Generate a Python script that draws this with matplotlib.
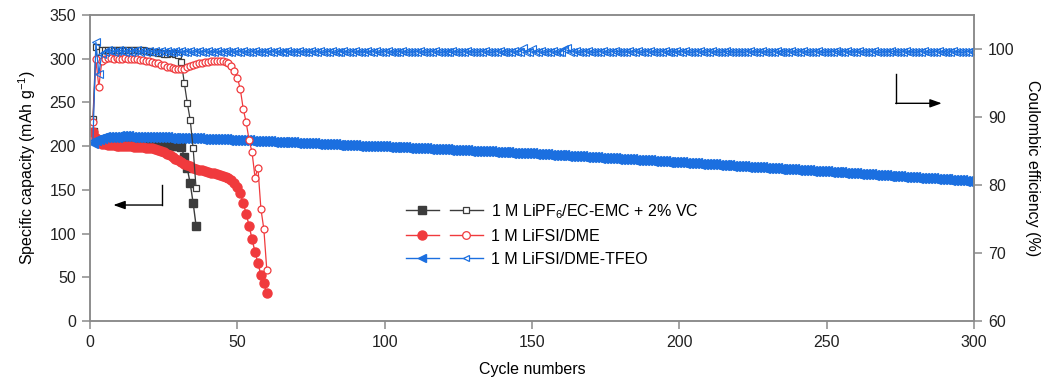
import numpy as np
import matplotlib.pyplot as plt
from matplotlib.lines import Line2D
from matplotlib.legend_handler import HandlerTuple

plt.rcParams['font.family'] = ['Liberation Sans', 'DejaVu Sans']
plt.rcParams['mathtext.default'] = 'regular'
plt.rcParams['font.size'] = 11.5

# ---- data: specific capacity (mAh/g) and coulombic efficiency (%) per cycle ----
cap_lipf6 = [216, 207, 205, 204.5, 204.2, 204, 204, 203.9, 203.8, 203.7,
             203.6, 203.5, 203.4, 203.3, 203.2, 203.1, 203, 202.9, 202.8, 202.7,
             202.6, 202.5, 202.3, 202.1, 201.9, 201.6, 201.3, 200.9, 200.4, 199.6,
             198.5, 188, 174.7, 157.5, 135, 109]
ce_lipf6 = [89.7, 100.3, 99.6, 99.8, 99.9, 99.8, 99.9, 99.9, 99.8, 99.9,
            99.9, 99.8, 99.9, 99.9, 99.8, 99.9, 99.8, 99.8, 99.7, 99.7,
            99.6, 99.5, 99.4, 99.4, 99.3, 99.3, 99.4, 99.4, 99.3, 99.1,
            98.1, 95.0, 92.1, 89.6, 85.4, 79.5]

cap_dme = [216, 209, 205, 203, 202, 201.5, 201, 200.8, 200.6, 200.4,
           200.2, 200, 199.8, 199.6, 199.4, 199.2, 199, 198.7, 198.4, 198,
           197.4, 196.6, 195.6, 194.4, 193, 191.4, 189.6, 187.6, 185.6, 183.6,
           181.6, 179.8, 178.2, 176.8, 175.5, 174.3, 173.2, 172.2, 171.3, 170.5,
           169.7, 168.9, 168.1, 167.2, 166.2, 165, 163.4, 161.2, 158.2, 153.5,
           146, 135, 122.8, 108.7, 93.5, 79, 66, 52.6, 43, 31.7]
ce_dme = [89.3, 98.5, 94.4, 98.2, 98.6, 98.7, 98.7, 98.6, 98.7, 98.6,
          98.6, 98.7, 98.6, 98.6, 98.5, 98.5, 98.4, 98.4, 98.3, 98.2,
          98.1, 98.0, 97.9, 97.7, 97.6, 97.4, 97.3, 97.2, 97.1, 97.0,
          97.0, 97.1, 97.3, 97.5, 97.7, 97.8, 97.9, 98.0, 98.1, 98.1,
          98.2, 98.2, 98.2, 98.2, 98.2, 98.1, 97.9, 97.5, 96.8, 95.8,
          94.1, 91.2, 89.2, 86.6, 84.8, 81.1, 82.5, 76.5, 73.5, 67.5]

cap_tfeo = [204.0, 207.2, 208.6, 209.4, 209.9, 210.3, 210.6, 210.8, 211.0, 211.1,
            211.1, 211.2, 211.1, 211.0, 211.0, 210.9, 210.8, 210.7, 210.6, 210.5,
            210.4, 210.3, 210.2, 210.1, 210.0, 209.9, 209.8, 209.7, 209.6, 209.5,
            209.4, 209.3, 209.2, 209.1, 209.0, 208.9, 208.8, 208.7, 208.6, 208.4,
            208.3, 208.2, 208.0, 207.9, 207.8, 207.6, 207.5, 207.4, 207.2, 207.1,
            206.9, 206.8, 206.6, 206.5, 206.3, 206.2, 206.0, 205.9, 205.7, 205.6,
            205.4, 205.3, 205.1, 205.0, 204.8, 204.7, 204.5, 204.4, 204.2, 204.0,
            203.9, 203.7, 203.6, 203.4, 203.2, 203.1, 202.9, 202.8, 202.6, 202.4,
            202.3, 202.1, 202.0, 201.8, 201.6, 201.5, 201.3, 201.2, 201.0, 200.9,
            200.7, 200.6, 200.4, 200.3, 200.2, 200.1, 200.0, 199.9, 199.8, 199.7,
            199.5, 199.4, 199.2, 199.1, 198.9, 198.7, 198.6, 198.4, 198.2, 198.1,
            197.9, 197.8, 197.6, 197.4, 197.3, 197.1, 196.9, 196.8, 196.6, 196.5,
            196.3, 196.1, 196.0, 195.8, 195.6, 195.5, 195.3, 195.2, 195.0, 194.8,
            194.7, 194.5, 194.3, 194.2, 194.0, 193.9, 193.7, 193.5, 193.4, 193.2,
            193.0, 192.9, 192.7, 192.6, 192.4, 192.2, 192.1, 191.9, 191.7, 191.6,
            191.4, 191.2, 191.0, 190.8, 190.6, 190.4, 190.2, 190.0, 189.8, 189.6,
            189.4, 189.2, 189.0, 188.8, 188.6, 188.4, 188.2, 188.0, 187.8, 187.6,
            187.4, 187.2, 187.0, 186.8, 186.6, 186.4, 186.2, 186.0, 185.8, 185.6,
            185.4, 185.2, 185.0, 184.8, 184.6, 184.4, 184.2, 184.0, 183.8, 183.6,
            183.4, 183.2, 183.0, 182.8, 182.6, 182.4, 182.2, 182.0, 181.8, 181.6,
            181.4, 181.2, 181.0, 180.7, 180.5, 180.3, 180.1, 179.9, 179.7, 179.5,
            179.3, 179.1, 178.8, 178.6, 178.4, 178.2, 178.0, 177.8, 177.6, 177.4,
            177.1, 176.9, 176.7, 176.5, 176.3, 176.1, 175.9, 175.6, 175.4, 175.2,
            175.0, 174.8, 174.6, 174.4, 174.2, 173.9, 173.7, 173.5, 173.3, 173.1,
            172.9, 172.7, 172.5, 172.2, 172.0, 171.8, 171.6, 171.4, 171.2, 171.0,
            170.8, 170.6, 170.3, 170.1, 169.9, 169.7, 169.4, 169.2, 169.0, 168.8,
            168.6, 168.3, 168.1, 167.9, 167.7, 167.5, 167.2, 167.0, 166.8, 166.6,
            166.4, 166.1, 165.9, 165.7, 165.5, 165.2, 165.0, 164.8, 164.6, 164.4,
            164.1, 163.9, 163.7, 163.5, 163.3, 163.0, 162.8, 162.6, 162.4, 162.2,
            161.9, 161.7, 161.5, 161.3, 161.1, 160.8, 160.6, 160.4, 160.2, 160.0]
ce_tfeo = [86.5, 101.0, 96.3, 99.3, 99.6, 99.8, 99.7, 99.6, 99.7, 99.8,
           99.7, 99.6, 99.7, 99.6, 99.7, 99.8, 99.6, 99.7, 99.6, 99.7,
           99.6, 99.7, 99.5, 99.7, 99.6, 99.7, 99.6, 99.5, 99.7, 99.6,
           99.7, 99.6, 99.6, 99.7, 99.5, 99.6, 99.7, 99.6, 99.6, 99.7,
           99.6, 99.5, 99.7, 99.6, 99.6, 99.7, 99.5, 99.6, 99.7, 99.6,
           99.6, 99.7, 99.6, 99.5, 99.6, 99.7, 99.6, 99.6, 99.5, 99.7,
           99.6, 99.6, 99.7, 99.6, 99.5, 99.6, 99.7, 99.6, 99.6, 99.5,
           99.7, 99.6, 99.6, 99.5, 99.7, 99.6, 99.6, 99.7, 99.5, 99.6,
           99.6, 99.7, 99.5, 99.6, 99.6, 99.7, 99.6, 99.5, 99.6, 99.7,
           99.6, 99.6, 99.5, 99.7, 99.6, 99.6, 99.7, 99.5, 99.6, 99.6,
           99.7, 99.6, 99.5, 99.6, 99.6, 99.7, 99.6, 99.5, 99.6, 99.6,
           99.6, 99.7, 99.6, 99.5, 99.6, 99.6, 99.7, 99.6, 99.5, 99.6,
           99.6, 99.5, 99.7, 99.6, 99.6, 99.5, 99.6, 99.7, 99.6, 99.6,
           99.5, 99.6, 99.6, 99.7, 99.6, 99.5, 99.6, 99.6, 99.7, 99.6,
           99.6, 99.5, 99.6, 99.7, 99.6, 99.6, 100.1, 99.5, 99.6, 100.0,
           99.6, 99.6, 99.7, 99.5, 99.6, 99.6, 99.7, 99.6, 99.5, 99.6,
           100.0, 100.2, 99.6, 99.6, 99.7, 99.5, 99.6, 99.6, 99.7, 99.6,
           99.5, 99.6, 99.6, 99.7, 99.6, 99.5, 99.6, 99.7, 99.6, 99.6,
           99.6, 99.5, 99.7, 99.6, 99.6, 99.7, 99.5, 99.6, 99.6, 99.7,
           99.6, 99.6, 99.5, 99.6, 99.7, 99.6, 99.6, 99.5, 99.7, 99.6,
           99.6, 99.7, 99.6, 99.5, 99.6, 99.6, 99.7, 99.6, 99.5, 99.6,
           99.7, 99.6, 99.6, 99.5, 99.6, 99.7, 99.6, 99.6, 99.5, 99.6,
           99.6, 99.5, 99.6, 99.7, 99.6, 99.6, 99.5, 99.7, 99.6, 99.6,
           99.5, 99.6, 99.7, 99.6, 99.6, 99.5, 99.6, 99.7, 99.6, 99.5,
           99.6, 99.7, 99.6, 99.5, 99.6, 99.6, 99.7, 99.6, 99.5, 99.6,
           99.6, 99.6, 99.7, 99.5, 99.6, 99.6, 99.7, 99.6, 99.6, 99.5,
           99.7, 99.6, 99.5, 99.6, 99.6, 99.7, 99.6, 99.5, 99.6, 99.6,
           99.6, 99.7, 99.6, 99.6, 99.5, 99.6, 99.7, 99.6, 99.6, 99.5,
           99.6, 99.6, 99.7, 99.6, 99.5, 99.6, 99.6, 99.7, 99.6, 99.6,
           99.5, 99.6, 99.7, 99.6, 99.6, 99.5, 99.6, 99.6, 99.7, 99.6]

labels = ['1 M LiPF$_6$/EC-EMC + 2% VC', '1 M LiFSI/DME', '1 M LiFSI/DME-TFEO']
colors = ['#3c3c3c', '#f03a3d', '#1b6fe0']

cyc_lipf6 = np.arange(1, len(cap_lipf6) + 1)
cyc_dme = np.arange(1, len(cap_dme) + 1)
cyc_tfeo = np.arange(1, len(cap_tfeo) + 1)

fig = plt.figure(figsize=(10.48, 3.81), dpi=100)
ax = fig.add_axes([90/1048, 1-321/381, 884/1048, 306/381])
ax2 = ax.twinx()

# capacity (filled symbols, left axis)
ax.plot(cyc_lipf6, cap_lipf6, '-s', color=colors[0], lw=1, ms=5.5)
ax.plot(cyc_dme, cap_dme, '-o', color=colors[1], lw=1, ms=6.5)
ax.plot(cyc_tfeo, cap_tfeo, '-<', color=colors[2], lw=1, ms=7.5)

# coulombic efficiency (open symbols, right axis)
ax2.plot(cyc_lipf6, ce_lipf6, '-s', color=colors[0], lw=0.9, ms=4.5, mfc='white', mew=0.9)
ax2.plot(cyc_dme, ce_dme, '-o', color=colors[1], lw=0.9, ms=5, mfc='white', mew=0.9)
ax2.plot(cyc_tfeo, ce_tfeo, '-<', color=colors[2], lw=0.9, ms=6, mfc='none', mew=0.8)

ax.set_xlim(0, 300)
ax.set_ylim(0, 350)
ax2.set_ylim(60, 105)
ax.set_xticks(np.arange(0, 301, 50))
ax.set_yticks(np.arange(0, 351, 50))
ax2.set_yticks(np.arange(60, 101, 10))

ax.set_xlabel('Cycle numbers', labelpad=9)
ax.set_ylabel('Specific capacity (mAh g$^{-1}$)', labelpad=8)
ax2.set_ylabel('Coulombic efficiency (%)', rotation=270, labelpad=18)

for a in (ax, ax2):
    for s in a.spines.values():
        s.set_color('#8a8a8a')
        s.set_linewidth(1.1)
    a.tick_params(direction='out', length=6, width=1.1, color='#8a8a8a',
                  labelsize=11.5, labelcolor='#222222', pad=4)

# arrows pointing each group of curves to its axis
ax.plot([0.0811, 0.0811], [0.444, 0.379], color='black', lw=1, transform=ax.transAxes)
ax.annotate('', xy=(0.0264, 0.379), xytext=(0.0811, 0.379), xycoords='axes fraction',
            arrowprops=dict(arrowstyle='-|>,head_length=0.7,head_width=0.25',
                            color='black', lw=1, mutation_scale=10, shrinkA=0, shrinkB=0))
ax.plot([0.9114, 0.9114], [0.806, 0.7114], color='black', lw=1, transform=ax.transAxes)
ax.annotate('', xy=(0.9635, 0.7114), xytext=(0.9114, 0.7114), xycoords='axes fraction',
            arrowprops=dict(arrowstyle='-|>,head_length=0.7,head_width=0.25',
                            color='black', lw=1, mutation_scale=10, shrinkA=0, shrinkB=0))

# legend: filled (capacity) and open (efficiency) symbol side by side
mk = ['s', 'o', '<']
msz = [5.5, 6.5, 6]
handles = []
for c, m, s in zip(colors, mk, msz):
    filled = Line2D([], [], color=c, marker=m, ms=s, lw=1)
    opened = Line2D([], [], color=c, marker=m, ms=s - 1, lw=1, mfc='white', mew=0.9)
    handles.append((filled, opened))
ax2.legend(handles, labels, handler_map={tuple: HandlerTuple(ndivide=None, pad=0.7)},
           loc='upper left', bbox_to_anchor=(406/1048, 1-202/381),
           bbox_transform=fig.transFigure, frameon=False, handlelength=4.8,
           handletextpad=0.5, labelspacing=0.5, borderpad=0, borderaxespad=0,
           fontsize=11.5, numpoints=1)

fig.savefig('out.png', dpi=100)
